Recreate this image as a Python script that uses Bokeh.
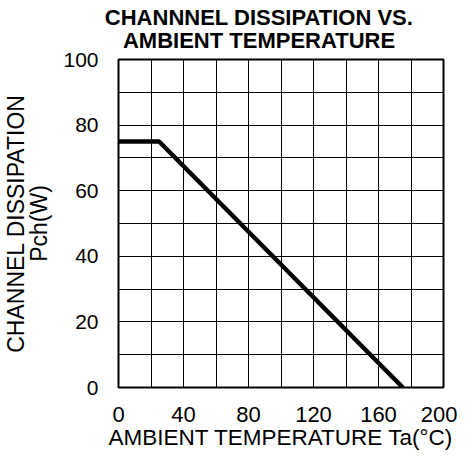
from bokeh.plotting import figure
from bokeh.models import Range1d, FixedTicker, LinearAxis
from bokeh.embed import file_html
from bokeh.resources import INLINE

# Data
temp_c = [0, 25, 175]
pch_w = [75, 75, 0]
x_ticks = [0, 40, 80, 120, 160, 200]
y_ticks = [0, 20, 40, 60, 80, 100]
x_grid = list(range(0, 201, 20))
y_grid = list(range(0, 101, 10))
title_text = "CHANNNEL DISSIPATION VS.\nAMBIENT TEMPERATURE"
title_center_x = 86.5
x_title = "AMBIENT TEMPERATURE Ta(°C)"
y_title = "CHANNEL DISSIPATION\nPch(W)"

FONT = "Liberation Sans"

p = figure(width=457, height=456, output_backend="svg", toolbar_location=None,
           x_range=Range1d(0, 200), y_range=Range1d(0, 100),
           min_border_left=115, min_border_right=14, min_border_top=59, min_border_bottom=69)
p.title.visible = False
p.background_fill_color = "white"
p.border_fill_color = "white"
p.outline_line_color = "black"
p.outline_line_width = 2

p.xgrid.ticker = FixedTicker(ticks=x_grid)
p.ygrid.ticker = FixedTicker(ticks=y_grid)
for g in (p.xgrid, p.ygrid):
    g.grid_line_color = "black"
    g.grid_line_width = 1
    g.grid_line_alpha = 1.0

p.xaxis.ticker = FixedTicker(ticks=x_ticks)
p.yaxis.ticker = FixedTicker(ticks=y_ticks)
for ax in (p.xaxis, p.yaxis):
    ax.axis_line_color = None
    ax.major_tick_in = 0
    ax.major_tick_out = 0
    ax.minor_tick_line_color = None
    ax.major_label_text_font = FONT
    ax.major_label_text_color = "black"
    ax.axis_label_text_font = FONT
    ax.axis_label_text_font_style = "normal"
    ax.axis_label_text_color = "black"

p.xaxis.major_label_text_font_size = "22px"
p.yaxis.major_label_text_font_size = "21px"
p.xaxis.major_label_standoff = 19
p.yaxis.major_label_standoff = 20
p.xaxis.axis_label = x_title
p.yaxis.axis_label = y_title
p.xaxis.axis_label_text_font_size = "22.5px"
p.yaxis.axis_label_text_font_size = "23px"
p.yaxis.axis_label_text_line_height = 0.9
p.xaxis.axis_label_standoff = 0
p.yaxis.axis_label_standoff = 8

# Chart title, centred over the reference's title position
title_axis = LinearAxis(ticker=FixedTicker(ticks=[title_center_x]),
                        major_label_overrides={title_center_x: title_text},
                        axis_line_color=None, major_tick_line_color=None,
                        minor_tick_line_color=None, major_tick_in=0, major_tick_out=0,
                        major_label_text_font=FONT, major_label_text_font_style="bold",
                        major_label_text_font_size="22px", major_label_text_color="black",
                        major_label_text_line_height=0.9, major_label_standoff=7)
p.add_layout(title_axis, "above")

p.line(temp_c, pch_w, line_width=4.5, line_color="black")

open("out.html", "w").write(file_html(p, INLINE))
